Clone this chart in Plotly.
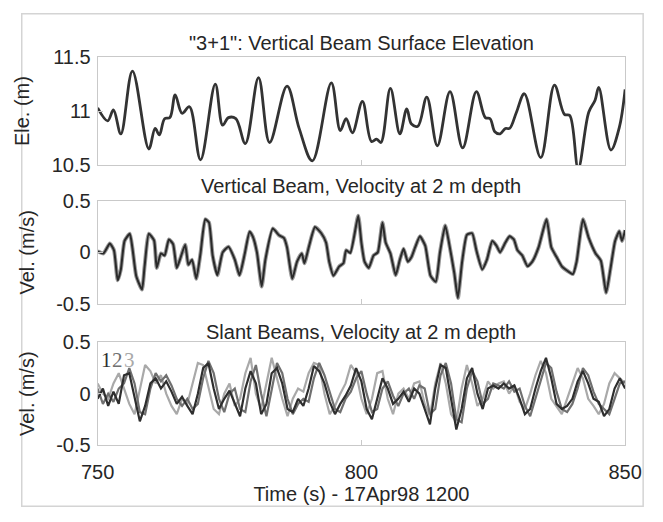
import plotly.graph_objects as go

# --- Surface elevation from the vertical beam (s, m)
t_elev = [750.0, 751.9, 753.0, 754.4, 756.6, 759.7, 760.9, 761.7, 762.7, 763.7,
          764.7, 766.0, 767.4, 769.5, 772.3, 773.7, 774.8, 776.2, 778.0, 780.5,
          782.6, 785.9, 788.2, 790.7, 794.3, 796.0, 797.1, 798.3, 800.2, 801.9,
          802.9, 803.7, 805.5, 807.3, 808.6, 809.5, 810.7, 812.4, 814.4, 816.8,
          819.2, 821.8, 823.5, 824.4, 825.3, 826.3, 827.3, 828.1, 829.4, 830.9,
          834.0, 836.6, 838.5, 839.5, 841.1, 843.1, 844.3, 845.0, 847.3, 848.9,
          850.0]
elevation = [11.03, 10.91, 11.01, 10.79, 11.37, 10.65, 10.84, 10.78, 10.93, 10.94,
             11.15, 10.98, 11.04, 10.55, 11.25, 10.87, 10.94, 10.93, 10.70, 11.31,
             10.71, 11.23, 10.84, 10.54, 11.26, 10.82, 10.93, 10.80, 11.09, 10.72,
             10.74, 10.71, 11.21, 10.79, 11.02, 10.88, 10.86, 11.13, 10.68, 11.18,
             10.66, 11.18, 10.94, 10.93, 10.81, 10.79, 10.84, 10.84, 10.99, 11.16,
             10.57, 11.24, 10.97, 10.96, 10.47, 10.99, 11.10, 11.22, 10.64, 10.85,
             11.20]

# --- Vertical beam velocity at 2 m depth (s, m/s)
t_vert = [750.0, 751.1, 752.3, 753.1, 753.8, 754.4, 755.1, 756.1, 756.6, 757.3,
          758.4, 758.9, 759.7, 760.7, 761.2, 762.0, 762.7, 763.5, 764.3, 765.0,
          765.6, 766.6, 767.2, 767.9, 768.7, 769.5, 770.4, 771.1, 771.8, 772.7,
          773.7, 774.8, 776.0, 776.9, 777.9, 778.8, 779.4, 780.2, 781.1, 781.8,
          783.2, 784.4, 785.3, 785.9, 786.9, 787.8, 788.7, 789.2, 790.1, 791.2,
          792.4, 793.3, 793.9, 794.7, 795.8, 796.6, 797.1, 797.9, 799.4, 800.0,
          800.6, 801.4, 802.3, 803.1, 804.0, 804.6, 805.5, 806.5, 807.3, 808.0,
          808.8, 809.5, 810.2, 811.1, 812.1, 813.1, 814.1, 814.9, 815.9, 816.6,
          817.6, 818.3, 819.1, 820.0, 821.0, 821.8, 822.9, 823.8, 824.8, 825.6,
          826.3, 827.3, 828.1, 828.9, 829.6, 830.5, 831.5, 832.4, 833.6, 835.1,
          836.0, 837.0, 838.0, 839.1, 840.1, 840.8, 842.0, 843.1, 844.4, 845.4,
          846.4, 847.2, 848.1, 848.9, 849.4, 850.0]
vel_vert = [0.01, -0.01, 0.085, 0.02, -0.27, -0.165, 0.11, 0.18, 0.04, -0.225,
            -0.36, -0.135, 0.18, 0.115, -0.15, -0.01, -0.03, 0.125, 0.08, -0.15,
            -0.07, 0.075, -0.12, -0.07, -0.255, -0.01, 0.32, 0.29, -0.03, -0.22,
            0.0, 0.055, -0.07, -0.22, -0.01, 0.2, 0.155, 0.0, -0.33, -0.07,
            0.23, 0.165, 0.14, 0.05, -0.255, -0.09, -0.01, -0.105, 0.065, 0.245,
            0.185, 0.095, -0.09, -0.225, -0.135, -0.105, 0.02, -0.005, 0.355, 0.095,
            -0.09, -0.15, -0.03, 0.0, 0.29, 0.095, -0.01, -0.22, -0.07, 0.035,
            -0.09, -0.045, 0.05, 0.155, 0.065, -0.225, -0.285, 0.0, 0.26, 0.095,
            -0.195, -0.44, -0.09, 0.17, 0.185, 0.02, -0.165, -0.07, 0.11, 0.065,
            0.0, 0.095, 0.155, 0.125, 0.02, -0.03, -0.135, -0.09, 0.05, 0.32,
            0.05, -0.045, -0.135, -0.18, -0.21, -0.09, 0.32, 0.14, -0.01, -0.08,
            -0.39, -0.165, 0.11, 0.205, 0.11, 0.215]

# --- Slant beam velocities at 2 m depth, one sample per second (m/s)
t_slant = list(range(750, 851))
beam1 = [-0.05, 0.05, -0.12, 0.02, -0.10, 0.18, 0.20, -0.05, -0.27, -0.12,
         0.10, 0.15, 0.05, 0.12, 0.02, -0.10, -0.03, -0.12, -0.20, 0.00,
         0.25, 0.30, 0.05, -0.15, -0.05, 0.03, -0.10, -0.22, 0.05, 0.22,
         0.10, -0.20, -0.10, 0.20, 0.25, 0.10, -0.15, -0.18, -0.05, -0.12,
         0.05, 0.27, 0.22, 0.10, -0.08, -0.20, -0.10, -0.02, 0.08, 0.25,
         0.12, -0.15, -0.25, -0.05, 0.15, 0.05, -0.10, -0.05, 0.02, -0.08,
         0.05, 0.00, -0.15, -0.30, 0.05, 0.28, 0.25, -0.05, -0.35, -0.15,
         0.15, 0.25, 0.00, -0.15, 0.05, 0.08, 0.05, 0.10, 0.05, 0.08,
         -0.05, -0.20, -0.15, 0.05, 0.22, 0.35, 0.15, -0.10, -0.15, -0.12,
         -0.05, 0.12, 0.22, 0.10, -0.05, -0.08, -0.22, -0.15, 0.05, 0.15,
         0.05]
beam2 = [0.05, -0.10, 0.00, -0.08, 0.05, 0.10, 0.25, 0.10, -0.18, -0.20,
         0.05, 0.20, 0.12, 0.18, 0.08, -0.05, -0.12, -0.05, -0.15, -0.10,
         0.15, 0.32, 0.20, -0.05, -0.18, 0.00, 0.05, -0.15, -0.18, 0.12,
         0.28, 0.00, -0.22, 0.05, 0.30, 0.20, -0.05, -0.20, -0.10, -0.05,
         -0.08, 0.15, 0.30, 0.18, 0.02, -0.15, -0.18, -0.05, 0.02, 0.15,
         0.22, 0.00, -0.18, -0.15, 0.05, 0.12, -0.02, -0.12, 0.00, 0.05,
         -0.05, 0.08, 0.05, -0.20, -0.15, 0.18, 0.30, 0.10, -0.25, -0.28,
         0.05, 0.22, 0.12, -0.10, -0.05, 0.10, 0.08, 0.05, 0.12, 0.02,
         0.05, -0.12, -0.22, -0.05, 0.12, 0.30, 0.25, 0.02, -0.15, -0.18,
         -0.10, 0.05, 0.25, 0.18, 0.02, -0.10, -0.15, -0.20, -0.05, 0.10,
         0.12]
beam3 = [0.10, 0.00, -0.05, 0.10, 0.20, 0.05, -0.10, -0.20, 0.05, 0.28,
         0.22, 0.10, 0.18, 0.00, -0.12, -0.20, -0.05, -0.10, 0.10, 0.30,
         0.28, 0.05, -0.15, -0.20, 0.00, 0.10, -0.12, -0.05, 0.20, 0.35,
         0.00, -0.15, 0.10, 0.35, 0.15, -0.05, -0.22, -0.05, 0.05, 0.02,
         0.20, 0.30, 0.28, 0.00, -0.20, -0.12, 0.00, 0.10, 0.28, 0.20,
         -0.05, -0.20, -0.05, 0.20, 0.22, -0.05, -0.20, 0.00, 0.05, -0.05,
         0.10, 0.12, -0.10, -0.22, 0.10, 0.30, 0.10, -0.20, -0.28, 0.05,
         0.28, 0.10, -0.12, -0.05, 0.12, 0.05, 0.10, 0.12, 0.00, 0.08,
         -0.08, -0.15, 0.00, 0.18, 0.32, 0.20, -0.05, -0.12, -0.20, -0.05,
         0.10, 0.25, 0.15, -0.05, -0.12, -0.20, -0.10, 0.10, 0.20, 0.15,
         0.10]

panel_titles = ['"3+1": Vertical Beam Surface Elevation',
                "Vertical Beam, Velocity at 2 m depth",
                "Slant Beams, Velocity at 2 m depth"]
beam_labels = ["1", "2", "3"]
beam_colors = ["#2e2e2e", "#707070", "#a9a9a9"]

W, H = 663, 522
FONT = "Liberation Sans, Arial, sans-serif"
TXT = "#262626"
FRAME = "#c9c9c9"
FS = 20


def py(px):
    """Convert a pixel row (from the top) to paper y."""
    return 1 - px / H


x_dom = [85 / W, 641 / W]
y_doms = [[py(161), py(48)], [py(306), py(198)], [py(453), py(346)]]

fig = go.Figure()

fig.add_trace(go.Scatter(x=t_elev, y=elevation, mode="lines",
                         line=dict(color="#333333", width=2.8, shape="spline",
                                   smoothing=1.0),
                         xaxis="x", yaxis="y", showlegend=False))

fig.add_trace(go.Scatter(x=t_vert, y=vel_vert, mode="lines",
                         line=dict(color="#9a9a9a", width=4, shape="spline",
                                   smoothing=0.5),
                         xaxis="x2", yaxis="y2", showlegend=False))
fig.add_trace(go.Scatter(x=t_vert, y=vel_vert, mode="lines",
                         line=dict(color="#2a2a2a", width=2.0, shape="spline",
                                   smoothing=0.5),
                         xaxis="x2", yaxis="y2", showlegend=False))

for vals, col in [(beam3, beam_colors[2]), (beam2, beam_colors[1]),
                  (beam1, beam_colors[0])]:
    fig.add_trace(go.Scatter(x=t_slant, y=vals, mode="lines",
                             line=dict(color=col, width=2.2),
                             xaxis="x3", yaxis="y3", showlegend=False))

axis_common = dict(showline=True, linecolor=FRAME, linewidth=1, mirror=True,
                   ticks="inside", tickcolor=FRAME, ticklen=5, showgrid=False,
                   zeroline=False, tickfont=dict(family=FONT, size=FS, color=TXT))

ranges = [[10.5, 11.5], [-0.5, 0.5], [-0.5, 0.5]]
yticks = [[10.5, 11, 11.5], [-0.5, 0, 0.5], [-0.5, 0, 0.5]]
ytitles = ["Ele. (m)", "Vel. (m/s)", "Vel. (m/s)"]

layout = dict(width=W, height=H, margin=dict(l=0, r=0, t=0, b=0),
              paper_bgcolor="white", plot_bgcolor="white",
              font=dict(family=FONT, color=TXT))

for i in range(3):
    sfx = "" if i == 0 else str(i + 1)
    layout["xaxis" + sfx] = dict(axis_common, domain=x_dom, range=[750, 850],
                                 tickvals=[750, 800, 850],
                                 showticklabels=(i == 2),
                                 anchor="y" + sfx)
    layout["yaxis" + sfx] = dict(axis_common, domain=y_doms[i], range=ranges[i],
                                 tickvals=yticks[i],
                                 ticktext=[("%g" % v) for v in yticks[i]],
                                 ticklabelstandoff=2,
                                 anchor="x" + sfx,
                                 title=dict(text=ytitles[i], standoff=16,
                                            font=dict(family=FONT, size=FS,
                                                      color=TXT)))

layout["xaxis3"]["ticklabelstandoff"] = 9
layout["xaxis3"]["title"] = dict(text="Time (s) - 17Apr98 1200", standoff=0,
                                 font=dict(family=FONT, size=FS, color=TXT))

fig.update_layout(**layout)

# Panel titles
title_rows = [33, 183, 335]
for txt, row in zip(panel_titles, title_rows):
    fig.add_annotation(text=txt, xref="paper", yref="paper",
                       x=(x_dom[0] + x_dom[1]) / 2, y=py(row),
                       xanchor="center", yanchor="middle", showarrow=False,
                       font=dict(family=FONT, size=FS, color=TXT))

# Beam numbers in the slant-beam panel
for lbl, col, tx in zip(beam_labels, beam_colors, [751.6, 753.8, 756.0]):
    fig.add_annotation(text=lbl, xref="x3", yref="y3", x=tx, y=0.33,
                       xanchor="center", yanchor="middle", showarrow=False,
                       font=dict(family="Liberation Serif, Times New Roman, serif",
                                 size=21, color=col))

# Outer figure border
fig.add_shape(type="rect", xref="paper", yref="paper",
              x0=5 / W, x1=1 - 3 / W, y0=py(517), y1=py(3),
              line=dict(color="#d4d4d4", width=1.5), layer="below")

fig.write_html("out.html")
